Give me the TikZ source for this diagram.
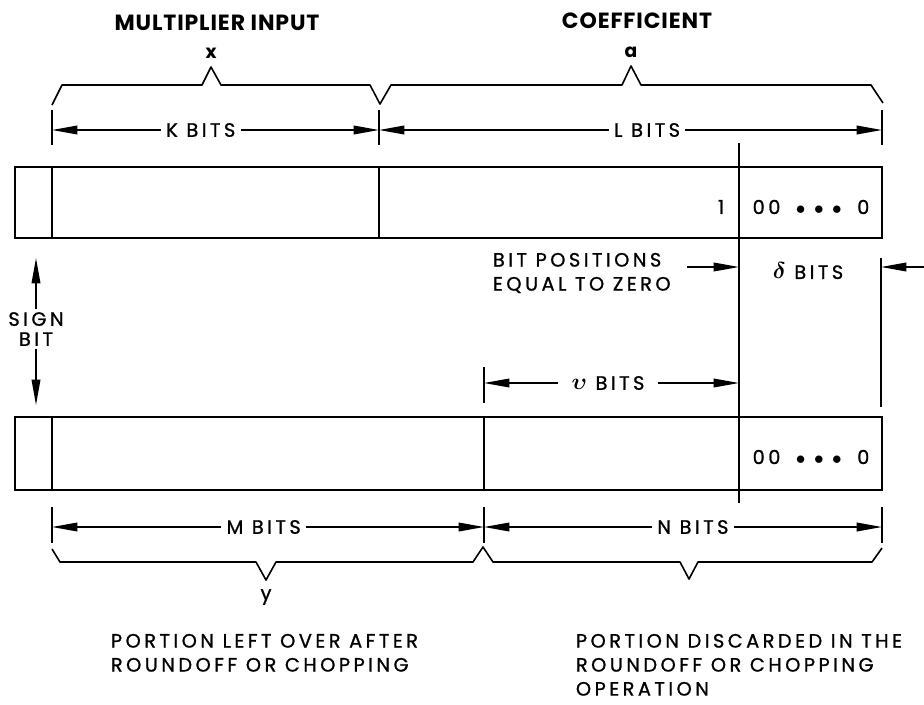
\documentclass[tikz,border=0pt]{standalone}
\usepackage{fontspec}
\setmainfont{Poppins}[LetterSpace=18, FakeBold=1]
\newfontfamily\headfont{Poppins}[LetterSpace=4]
\usetikzlibrary{arrows.meta,positioning,calc}

\begin{document}
\begin{tikzpicture}[
  x=0.75pt, y=-0.75pt,
  every node/.style={font=\fontsize{14.5}{14}\selectfont, inner sep=2pt},
  reg/.style={line width=1.6pt},
  tick/.style={line width=1.4pt},
  ptr/.style={-{Triangle[length=19pt,width=6.5pt]}, line width=1.1pt},
  dim/.style={{Triangle[length=19pt,width=6.5pt]}-{Triangle[length=19pt,width=6.5pt]}, line width=1.1pt},
  gaplbl/.style={fill=white, inner sep=4pt},
  brace/.style={line width=1.2pt, line join=round},
  title/.style={font=\fontsize{16.5}{14}\headfont\bfseries},
  note/.style={align=left, anchor=north west, font=\fontsize{14.5}{18}\selectfont}
]
\useasboundingbox (0,0) rectangle (924,704);

\draw[reg] (15,167) rectangle (882,238);
\draw[reg] (52,167) -- (52,238);
\draw[reg] (379,167) -- (379,238);
\draw[reg] (15,417) rectangle (882,490);
\draw[reg] (52,417) -- (52,490);
\draw[reg] (484,417) -- (484,490);
\draw[reg] (739,143) -- (739,503);

\node[title] (mult) at (217,23) {MULTIPLIER INPUT};
\node[title] (coef) at (637,21) {COEFFICIENT};
\node[font=\fontsize{14}{14}\headfont\bfseries] (xlbl) at (211,53) {x};
\node[font=\fontsize{14}{14}\headfont\bfseries] (albl) at (631,52) {a};
\draw[brace] (52,105) -- (62,85) -- (202,85) -- (211,67) -- (221,85) -- (370,85)
  -- (380,104) -- (391,85) -- (622,85) -- (631,66) -- (641,85) -- (871,85) -- (883,103);

\foreach \x in {52,379,882} \draw[tick] (\x,110) -- (\x,145);
\coordinate (k0) at (52,130);
\coordinate (k1) at (379,130);
\coordinate (l1) at (882,130);
\draw[dim] (k0) -- node[gaplbl, pos=0.455] (kbits) {K BITS} (k1);
\draw[dim] (k1) -- node[gaplbl, pos=0.533] (lbits) {L BITS} (l1);

\node (one) at (721,207) {1};
\node (zeros1) at (811,207) {00\hspace{0.8em}$\bullet\hspace{0.22em}\bullet\hspace{0.22em}\bullet$\hspace{0.8em}0};
\node (zeros2) at (811,457) {00\hspace{0.8em}$\bullet\hspace{0.22em}\bullet\hspace{0.22em}\bullet$\hspace{0.8em}0};

\node[align=center, font=\fontsize{14.5}{15}\selectfont] (sign) at (36,329) {SIGN\\BIT};
\coordinate (signtop) at (36,258);
\coordinate (signbot) at (36,405);
\draw[ptr] (sign.north) -- (signtop);
\draw[ptr] (sign.south) -- (signbot);

\node[note] (bitpos) at (490,250) {BIT POSITIONS\\EQUAL TO ZERO};
\coordinate (bp0) at (687,267);
\coordinate (bp1) at (739,267);
\draw[ptr] (bp0) -- (bp1);
\node (dbits) at (808,271) {{\boldmath\fontsize{19}{14}\selectfont$\delta$} BITS};
\draw[tick] (881,258) -- (881,407);
\coordinate (dr0) at (924,267);
\coordinate (dr1) at (881,267);
\draw[ptr] (dr0) -- (dr1);

\draw[tick] (484,367) -- (484,403);
\node[inner xsep=10pt] (ubits) at (608,383) {{\boldmath\fontsize{19}{14}\selectfont$\upsilon$} BITS};
\coordinate (u0) at (484,383);
\coordinate (u1) at (739,383);
\draw[ptr] (ubits) -- (u0);
\draw[ptr] (ubits) -- (u1);

\foreach \x in {52,484,882} \draw[tick] (\x,507) -- (\x,543);
\coordinate (m0) at (52,527);
\coordinate (m1) at (484,527);
\coordinate (n1) at (882,527);
\draw[dim] (m0) -- node[gaplbl, pos=0.49] (mbits) {M BITS} (m1);
\draw[dim] (m1) -- node[gaplbl, pos=0.525] (nbits) {N BITS} (n1);

\draw[brace] (52,549) -- (60,562) -- (256,562) -- (266,580) -- (276,562) -- (473,562)
  -- (483,547) -- (493,562) -- (680,562) -- (689,579) -- (698,562) -- (872,562) -- (882,548);
\node (ylbl) at (266,597) {y};

\node[note] (leftover) at (108,631) {PORTION LEFT OVER AFTER\\ROUNDOFF OR CHOPPING};
\node[note] (discard) at (573,631) {PORTION DISCARDED IN THE\\ROUNDOFF OR CHOPPING\\OPERATION};
\end{tikzpicture}
\end{document}
